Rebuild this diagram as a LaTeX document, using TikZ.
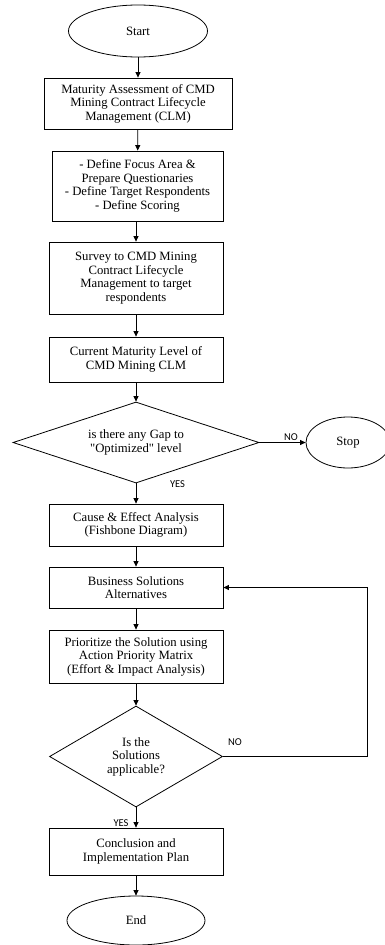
\documentclass[tikz,border=0pt]{standalone}
\usepackage{fontspec}
\setmainfont{Liberation Serif}
\newfontfamily\labelfont{Carlito}
\usetikzlibrary{shapes.geometric,arrows.meta}

\begin{document}
\begin{tikzpicture}[x=1pt,y=-1pt,
  every node/.style={font=\fontsize{12.7}{13.5}\selectfont, align=center, inner sep=0pt},
  procbox/.style={draw, line width=0.8pt, rectangle, minimum width=#1},
  procbox/.default=174pt,
  terminal/.style={draw, line width=0.8pt, ellipse, inner sep=0pt},
  decision/.style={draw, line width=0.8pt, diamond, inner sep=0pt},
  flowarrow/.style={draw, line width=0.8pt, -{Triangle[length=5.5pt,width=5pt]}},
  branchlabel/.style={font=\labelfont\fontsize{10.5}{12}\selectfont}
]
\useasboundingbox (0,0) rectangle (384,945);

% terminals
\node[terminal, minimum width=139pt, minimum height=52pt] (start) at (138,31) {Start};
\node[terminal, minimum width=84pt, minimum height=51pt] (stop) at (348,442.5) {Stop};
\node[terminal, minimum width=138pt, minimum height=49pt] (end) at (136,920.5) {End};

% process boxes
\node[procbox=188pt, minimum height=51pt] (assess) at (138,103.5)
  {Maturity Assessment of CMD\\Mining Contract Lifecycle\\Management (CLM)};
\node[procbox=171pt, minimum height=70pt] (define) at (137.5,186)
  {- Define Focus Area \&\\Prepare Questionaries\\- Define Target Respondents\\- Define Scoring};
\node[procbox, minimum height=72pt] (survey) at (136,278)
  {Survey to CMD Mining\\Contract Lifecycle\\Management to target\\respondents};
\node[procbox, minimum height=45pt] (current) at (136,359.5)
  {Current Maturity Level of\\CMD Mining CLM};
\node[procbox, minimum height=42pt] (cause) at (136,525)
  {Cause \& Effect Analysis\\(Fishbone Diagram)};
\node[procbox, minimum height=41pt] (alts) at (136,587.5)
  {Business Solutions\\Alternatives};
\node[procbox, minimum height=53pt] (prio) at (136,656.5)
  {Prioritize the Solution using\\Action Priority Matrix\\(Effort \& Impact Analysis)};
\node[procbox, minimum height=47pt] (concl) at (136,851.5)
  {Conclusion and\\Implementation Plan};

% decisions
\node[decision, shape aspect=3, minimum width=246pt, minimum height=81pt] (gap) at (136,442.5)
  {is there any Gap to\\\textquotedbl Optimized\textquotedbl\ level};
\node[decision, shape aspect=1.7, minimum width=173pt, minimum height=101pt] (apply) at (136,756.5)
  {Is the\\Solutions\\applicable?};

% main flow
\draw[flowarrow] (start) -- (assess);
\draw[flowarrow] (assess) -- (define);
\draw[flowarrow] (define.south -| survey.north) -- (survey);
\draw[flowarrow] (survey) -- (current);
\draw[flowarrow] (current) -- (gap);
\draw[flowarrow] (gap) -- (cause);
\draw[flowarrow] (cause) -- (alts);
\draw[flowarrow] (alts) -- (prio);
\draw[flowarrow] (prio) -- (apply);
\draw[flowarrow] (apply) -- (concl);
\draw[flowarrow] (concl) -- (end);

% branches
\draw[flowarrow] (gap.east) -- (stop.west);
\coordinate (loopcorner) at (367,756.5);
\draw[flowarrow] (apply.east) -- (loopcorner) |- (alts.east);

% branch labels
\node[branchlabel] (noA) at (291,437) {NO};
\node[branchlabel] (yesA) at (177.5,484.5) {YES};
\node[branchlabel] (noB) at (235,742) {NO};
\node[branchlabel] (yesB) at (121,823) {YES};
\end{tikzpicture}
\end{document}
